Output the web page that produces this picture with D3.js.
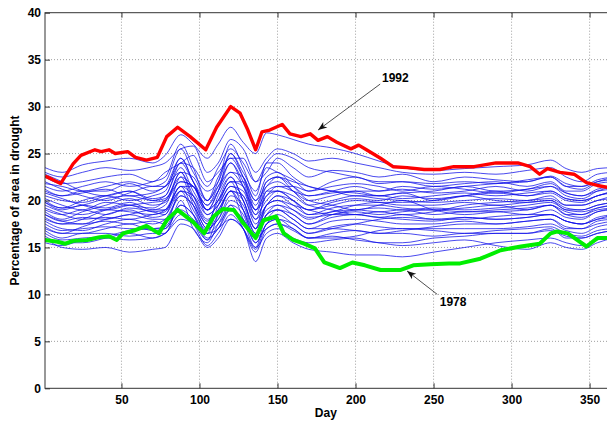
<!DOCTYPE html>
<html>
<head>
<meta charset="utf-8">
<script src="https://cdn.jsdelivr.net/npm/d3@7"></script>
<style>
  body { margin: 0; background: #fff; }
  svg { display: block; font-family: "Liberation Sans", Arial, sans-serif; }
</style>
</head>
<body>
<svg width="607" height="422"></svg>
<script>
// sample days shared by all the blue (other years) curves
const blueDays = [1,12,25,40,55,70,78,88,96,105,112,120,128,136,143,150,160,170,185,200,215,230,250,270,290,310,325,335,345,355,365];

const blueYears = [
  [23.5,23.0,23.8,24.2,24.5,24.0,24.8,27.0,26.0,24.5,26.0,27.8,26.2,25.0,27.2,27.0,26.5,26.0,25.6,25.0,24.2,23.5,23.2,23.4,23.6,23.8,24.3,23.4,23.0,23.4,23.5],
  [23.0,22.5,23.0,23.5,23.2,23.6,24.0,25.5,25.8,23.0,24.0,26.5,25.5,23.0,24.5,25.5,25.0,24.2,24.5,24.0,23.5,23.0,22.8,23.0,22.8,23.2,23.5,22.5,22.0,22.8,23.0],
  [22.5,21.8,22.0,22.5,22.8,22.0,23.0,24.0,24.8,22.0,23.0,24.5,24.5,22.0,23.0,24.5,23.5,22.5,23.2,23.0,22.5,22.8,22.0,22.5,22.2,22.0,22.6,21.8,21.5,22.2,22.5],
  [21.8,21.5,21.0,21.5,22.0,21.5,22.0,25.5,23.0,21.0,22.0,25.0,23.0,21.0,23.5,23.0,22.2,21.0,22.0,22.5,21.8,22.0,21.5,21.8,22.0,21.5,22.0,21.0,21.0,21.8,22.0],
  [21.0,20.5,20.8,21.2,20.5,20.8,21.5,23.0,22.5,20.0,21.5,23.0,22.5,20.0,21.5,22.5,21.5,20.5,21.0,21.5,21.0,21.2,20.8,21.0,21.5,21.0,21.5,20.5,20.2,21.0,21.5],
  [20.5,20.0,19.8,20.5,21.0,20.0,20.5,23.5,21.0,19.0,21.0,24.0,21.5,18.5,21.5,22.0,21.0,20.0,20.5,21.0,20.5,20.8,20.0,20.5,21.0,20.5,20.8,20.0,19.8,20.5,20.8],
  [20.2,19.5,19.0,19.8,19.5,19.2,20.0,22.0,21.5,19.0,20.0,22.0,21.5,18.5,20.0,21.0,20.5,19.5,20.0,20.5,20.2,20.0,19.8,20.0,20.2,20.0,20.5,19.5,19.5,20.0,20.2],
  [19.8,19.0,19.5,19.2,19.8,19.0,19.5,23.0,20.0,17.5,20.5,22.5,20.0,17.0,21.0,21.0,20.0,19.0,19.5,20.0,19.8,19.5,19.5,19.8,19.5,19.8,20.0,19.0,19.0,19.5,19.8],
  [19.5,18.8,18.5,19.0,18.8,18.5,19.0,21.5,20.5,18.0,19.0,21.0,20.5,17.5,19.5,20.5,19.5,18.5,19.2,19.5,19.5,19.2,19.0,19.2,19.5,19.0,19.5,18.8,18.5,19.2,19.5],
  [19.0,18.5,19.0,18.5,19.2,18.8,18.5,22.5,19.5,16.5,19.5,22.0,19.0,16.0,19.5,20.0,19.0,18.0,18.8,19.0,18.8,19.0,18.5,18.8,18.8,18.5,19.0,18.2,18.0,18.8,19.0],
  [18.5,17.8,18.2,18.0,18.5,18.0,18.0,20.5,19.5,17.0,18.0,20.5,19.5,16.5,18.5,19.5,18.5,17.5,18.2,18.5,18.2,18.5,18.0,18.2,18.0,18.2,18.5,17.8,17.5,18.2,18.5],
  [18.0,17.5,17.5,17.8,17.5,17.8,17.5,21.0,18.5,15.8,18.5,21.0,18.0,15.0,18.5,19.0,18.0,17.0,17.8,18.0,17.8,17.5,17.5,17.8,17.5,17.8,18.0,17.2,17.0,17.8,18.0],
  [17.5,16.8,17.0,17.2,17.0,17.0,17.0,19.5,18.5,16.0,17.0,19.5,18.5,15.5,17.5,18.5,17.5,16.5,17.2,17.5,17.2,17.0,17.0,17.0,17.0,17.2,17.5,16.8,16.5,17.2,17.5],
  [16.8,16.0,16.5,16.5,16.2,16.5,16.5,20.0,17.0,15.5,17.5,19.5,17.0,14.5,17.0,17.5,16.8,16.0,16.5,16.8,16.5,16.5,16.2,16.5,16.5,16.5,16.8,16.2,16.0,16.5,16.8],
  [16.0,15.0,14.8,15.0,14.5,14.8,15.0,17.5,17.0,15.0,16.0,18.0,17.0,13.5,16.0,16.5,15.5,14.8,14.5,14.2,14.2,14.0,14.5,15.0,15.5,15.8,16.0,15.5,15.2,15.8,16.2],
  [22.8,22.0,21.0,20.5,21.0,20.2,20.5,24.0,22.0,20.0,22.5,24.5,22.5,20.0,22.5,23.0,21.5,20.0,19.5,19.0,19.5,20.0,19.0,18.5,18.8,19.0,19.5,18.5,18.2,18.8,19.2],
  [17.0,16.5,17.2,18.0,18.5,19.0,19.0,21.5,21.5,19.0,20.0,22.0,22.0,19.0,20.5,21.5,21.5,21.0,21.5,21.8,21.5,21.0,21.5,21.2,20.8,21.2,21.5,20.8,20.5,21.0,21.2],
  [20.0,19.2,20.0,20.5,20.0,20.5,21.0,24.5,22.0,19.0,21.0,25.0,22.5,19.5,22.0,22.5,21.0,19.5,19.0,18.5,18.8,18.5,18.8,19.5,19.8,20.0,20.2,19.5,19.5,20.0,20.5],
  [18.8,18.0,18.8,19.5,20.2,19.5,19.8,22.0,21.5,18.5,19.5,21.5,21.0,18.0,19.5,20.5,20.0,19.0,19.8,20.2,20.0,20.5,20.2,20.5,20.8,20.5,21.0,20.2,20.0,20.5,21.0],
  [21.5,21.0,21.5,22.0,21.5,22.0,22.5,26.0,23.5,20.0,22.0,26.0,23.5,20.5,24.0,24.0,22.5,21.5,21.0,20.5,20.5,20.2,20.5,20.8,20.5,20.8,21.0,20.2,20.0,20.5,21.0],
  [17.8,17.0,16.8,17.5,18.0,17.5,18.0,20.5,19.5,17.0,18.0,20.0,19.0,16.5,18.0,19.0,18.5,17.5,18.5,19.0,19.2,19.0,19.2,19.0,19.2,19.5,19.8,19.0,18.8,19.2,19.5],
  [16.5,15.8,16.0,16.2,16.8,17.0,17.2,19.5,18.5,16.5,17.0,19.0,18.0,15.5,17.5,18.0,17.5,16.5,17.0,17.5,18.0,18.2,18.0,18.0,18.3,18.5,18.5,17.8,17.5,18.0,18.2],
  [19.2,18.5,18.0,18.2,18.0,18.5,18.8,21.5,19.0,16.8,18.5,21.0,19.0,16.0,18.5,19.0,18.0,17.0,17.0,16.8,16.5,16.8,17.2,17.5,17.5,17.8,18.0,17.0,17.0,17.5,17.8],
  [22.0,21.2,20.5,20.0,20.8,21.5,21.5,24.0,23.5,21.5,23.5,25.5,24.0,22.0,24.0,25.0,24.5,23.5,23.0,22.5,22.0,22.0,21.8,22.0,21.8,22.2,22.5,21.5,21.2,22.0,22.2],
  [15.5,15.2,15.8,16.0,15.8,16.0,16.5,18.0,17.5,15.8,17.0,18.0,17.0,15.0,16.5,17.0,16.0,15.5,15.8,16.0,15.5,15.5,16.0,16.2,16.5,16.5,17.0,16.0,16.0,16.5,16.8],
  [20.8,20.2,19.5,19.0,19.5,19.8,20.0,23.0,20.5,17.8,20.0,22.5,20.0,17.0,19.5,20.0,19.5,19.0,18.5,18.5,18.2,18.0,17.8,18.2,18.0,18.2,18.5,17.8,17.5,18.0,18.5],
  [18.2,17.5,18.0,19.0,19.5,18.8,19.0,21.0,20.5,18.5,19.5,21.5,20.5,18.0,20.5,21.0,20.0,18.5,18.8,19.5,19.8,19.8,20.0,20.5,20.0,19.8,20.0,19.2,19.0,19.5,19.8],
  [19.8,19.2,19.5,20.2,20.5,20.0,20.2,22.5,21.5,19.5,21.0,23.0,21.5,19.0,21.0,21.5,21.0,20.5,20.8,21.0,21.0,21.5,21.2,21.5,21.8,22.0,22.5,21.5,21.5,22.0,22.5],
  [17.2,16.5,16.5,17.0,17.5,16.8,17.0,19.0,18.0,16.5,17.5,19.0,18.0,16.0,17.0,17.5,17.0,16.0,16.2,15.8,15.5,15.2,15.5,15.8,15.2,14.8,15.5,15.0,14.8,15.5,16.0],
  [21.2,20.5,21.0,21.0,21.8,21.0,21.5,24.5,22.0,19.5,21.5,24.0,22.0,19.0,22.0,22.5,22.0,21.5,21.0,20.8,20.5,20.8,21.0,21.5,21.0,21.2,21.8,20.8,20.5,21.2,21.5],
  [18.5,17.8,17.5,18.5,19.0,18.2,18.5,21.0,20.0,17.5,19.0,21.0,20.0,17.0,19.0,19.5,19.0,18.2,18.5,18.8,18.5,18.8,19.0,18.8,19.0,19.2,19.5,18.5,18.5,19.0,19.2],
  [16.2,15.5,15.5,16.0,16.5,16.0,16.5,18.5,17.5,15.2,16.5,18.5,17.0,14.8,17.5,18.0,17.0,16.0,16.0,16.2,16.8,17.0,16.8,16.5,16.8,17.0,17.2,16.5,16.2,16.8,17.0]
];

// 1992 (red)
const days1992 = [1,5,11,19,24,33,37,42,46,54,59,66,73,79,86,94,104,111,120,126,131,136,140,145,153,158,165,171,176,182,188,197,202,207,216,224,233,244,254,263,276,290,304,312,318,323,331,340,348,355,365];
const vals1992 = [22.6,22.3,21.8,23.9,24.8,25.4,25.2,25.4,25.0,25.2,24.6,24.3,24.6,26.8,27.8,26.8,25.4,27.8,30.0,29.3,27.5,25.4,27.3,27.5,28.1,27.1,26.8,27.1,26.4,26.8,26.2,25.5,25.9,25.4,24.5,23.6,23.5,23.3,23.3,23.6,23.6,24.0,24.0,23.6,22.8,23.4,23.0,22.8,21.9,21.6,21.3];

// 1978 (green)
const days1978 = [1,9,14,19,28,36,42,47,51,58,66,74,79,86,96,103,109,115,122,128,136,141,149,154,160,167,174,180,190,198,206,216,229,237,248,260,267,280,293,306,318,325,329,336,342,348,355,365];
const vals1978 = [15.8,15.6,15.4,15.7,15.8,16.1,16.2,15.8,16.5,16.8,17.3,16.5,17.9,19.0,17.7,16.5,18.3,19.1,19.0,17.6,16.0,17.9,18.3,16.5,15.8,15.4,14.9,13.4,12.8,13.4,13.1,12.6,12.6,13.1,13.2,13.3,13.3,13.8,14.7,15.1,15.4,16.5,16.7,16.5,15.8,15.1,16.0,16.0];

const xTicks = [50,100,150,200,250,300,350];
const yTicks = [0,5,10,15,20,25,30,35,40];

// annotations: [label, text day, text value, tail day, tail value, tip day, tip value]
const notes = [
  ['1992', 225.5, 33.1, 215.8, 32.4, 176, 27.5],
  ['1978', 262.5, 9.2, 252.4, 10.0, 233, 12.5]
];

const svg = d3.select('svg');
const margin = { top: 12.7, left: 45 };
const innerWidth = 568;
const innerHeight = 375.6;

const x = d3.scaleLinear().domain([1, 365]).range([0, innerWidth]);
const y = d3.scaleLinear().domain([0, 40]).range([innerHeight, 0]);

const g = svg.append('g')
  .attr('transform', `translate(${margin.left},${margin.top})`);

g.append('clipPath').attr('id', 'plot-clip')
  .append('rect').attr('width', innerWidth).attr('height', innerHeight);

// dotted grid
g.append('g').selectAll('line').data(xTicks).enter().append('line')
  .attr('x1', d => x(d)).attr('x2', d => x(d))
  .attr('y1', 0).attr('y2', innerHeight)
  .attr('stroke', '#888').attr('stroke-width', 0.8).attr('stroke-dasharray', '1,2');
g.append('g').selectAll('line').data(yTicks.filter(d => d > 0 && d < 40)).enter().append('line')
  .attr('x1', 0).attr('x2', innerWidth)
  .attr('y1', d => y(d)).attr('y2', d => y(d))
  .attr('stroke', '#888').attr('stroke-width', 0.8).attr('stroke-dasharray', '1,2');

const lines = g.append('g').attr('clip-path', 'url(#plot-clip)');

const blueLine = d3.line()
  .x((v, i) => x(blueDays[i]))
  .y(v => y(v))
  .curve(d3.curveMonotoneX);

lines.selectAll('.year').data(blueYears).enter().append('path')
  .attr('class', 'year')
  .attr('d', blueLine)
  .attr('fill', 'none')
  .attr('stroke', '#1010e8')
  .attr('stroke-opacity', 0.85)
  .attr('stroke-width', 0.9);

const lineFor = ds => d3.line().x((v, i) => x(ds[i])).y(v => y(v));

lines.append('path')
  .attr('d', lineFor(days1992)(vals1992))
  .attr('fill', 'none').attr('stroke', '#ff0000').attr('stroke-width', 3.4)
  .attr('stroke-linejoin', 'round');

lines.append('path')
  .attr('d', lineFor(days1978)(vals1978))
  .attr('fill', 'none').attr('stroke', '#00ee00').attr('stroke-width', 4)
  .attr('stroke-linejoin', 'round');

// axes, ticks pointing inwards like matlab
const xAxis = d3.axisBottom(x).tickValues(xTicks).tickSizeInner(-5).tickSizeOuter(0).tickPadding(6);
const xTop = d3.axisTop(x).tickValues(xTicks).tickSizeInner(-5).tickSizeOuter(0);
const yAxis = d3.axisLeft(y).tickValues(yTicks).tickSizeInner(-5).tickSizeOuter(0).tickPadding(4);

const xAxisG = g.append('g').attr('transform', `translate(0,${innerHeight})`).call(xAxis);
const xTopG = g.append('g').call(xTop);
const yAxisG = g.append('g').call(yAxis);
xTopG.selectAll('.tick text').remove();
[xAxisG, xTopG, yAxisG].forEach(a => {
  a.attr('font-size', 12).attr('font-weight', 'bold')
    .attr('font-family', '"Liberation Sans", Arial, sans-serif');
  a.select('.domain').remove();
  a.selectAll('.tick line').attr('stroke', '#333');
  a.selectAll('.tick text').attr('fill', '#000');
});
xAxisG.selectAll('.tick text').attr('dy', '0.78em');

g.append('rect')
  .attr('width', innerWidth).attr('height', innerHeight)
  .attr('fill', 'none').attr('stroke', '#333').attr('stroke-width', 1);

// labels
svg.append('text')
  .attr('x', margin.left + x(181)).attr('y', 417)
  .attr('text-anchor', 'middle')
  .attr('font-size', 12).attr('font-weight', 'bold')
  .text('Day');

svg.append('text')
  .attr('transform', `translate(19,${margin.top + y(20)}) rotate(-90)`)
  .attr('text-anchor', 'middle')
  .attr('font-size', 12).attr('font-weight', 'bold')
  .text('Percentage of area in drought');

// arrows with text
const ann = g.append('g');
notes.forEach(n => {
  const [label, tx, ty, sx, sy, ex, ey] = n;
  const x0 = x(sx), y0 = y(sy), x1 = x(ex), y1 = y(ey);
  ann.append('line')
    .attr('x1', x0).attr('y1', y0).attr('x2', x1).attr('y2', y1)
    .attr('stroke', '#222').attr('stroke-width', 0.8);
  const ang = Math.atan2(y1 - y0, x1 - x0) * 180 / Math.PI;
  ann.append('path')
    .attr('d', 'M0,0L-9,-3.5L-6.5,0L-9,3.5Z')
    .attr('transform', `translate(${x1},${y1}) rotate(${ang})`)
    .attr('fill', '#111');
  ann.append('text')
    .attr('x', x(tx)).attr('y', y(ty))
    .attr('dy', '0.35em')
    .attr('text-anchor', 'middle')
    .attr('font-size', 12).attr('font-weight', 'bold')
    .text(label);
});
</script>
</body>
</html>
